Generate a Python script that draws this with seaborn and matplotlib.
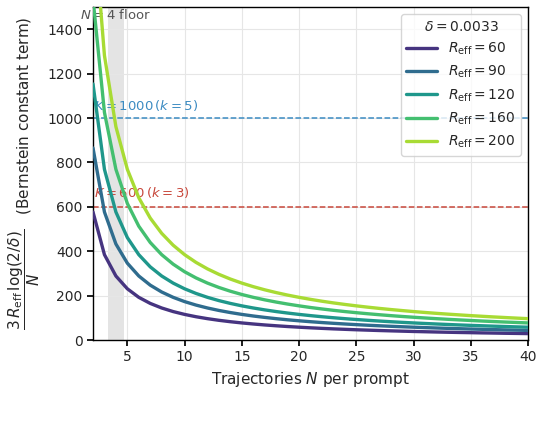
import numpy as np
import pandas as pd
import matplotlib
matplotlib.use("Agg")
import matplotlib.pyplot as plt
import seaborn as sns

N_values = list(range(2, 41))
R_eff_values = [60, 90, 120, 160, 200]

bound_R60 = [576.6, 384.4, 288.3, 230.7, 192.2, 164.8, 144.2, 128.1, 115.3, 104.8, 96.1, 88.7, 82.4, 76.9,
             72.1, 67.8, 64.1, 60.7, 57.7, 54.9, 52.4, 50.1, 48.1, 46.1, 44.4, 42.7, 41.2, 39.8, 38.4, 37.2,
             36.0, 34.9, 33.9, 33.0, 32.0, 31.2, 30.3, 29.6, 28.8]
bound_R90 = [864.9, 576.6, 432.5, 346.0, 288.3, 247.1, 216.2, 192.2, 173.0, 157.3, 144.2, 133.1, 123.6, 115.3,
             108.1, 101.8, 96.1, 91.0, 86.5, 82.4, 78.6, 75.2, 72.1, 69.2, 66.5, 64.1, 61.8, 59.7, 57.7, 55.8,
             54.1, 52.4, 50.9, 49.4, 48.1, 46.8, 45.5, 44.4, 43.2]
bound_R120 = [1153.3, 768.8, 576.6, 461.3, 384.4, 329.5, 288.3, 256.3, 230.7, 209.7, 192.2, 177.4, 164.8, 153.8,
              144.2, 135.7, 128.1, 121.4, 115.3, 109.8, 104.8, 100.3, 96.1, 92.3, 88.7, 85.4, 82.4, 79.5, 76.9,
              74.4, 72.1, 69.9, 67.8, 65.9, 64.1, 62.3, 60.7, 59.1, 57.7]
bound_R160 = [1537.7, 1025.1, 768.8, 615.1, 512.6, 439.3, 384.4, 341.7, 307.5, 279.6, 256.3, 236.6, 219.7, 205.0,
              192.2, 180.9, 170.9, 161.9, 153.8, 146.4, 139.8, 133.7, 128.1, 123.0, 118.3, 113.9, 109.8, 106.0,
              102.5, 99.2, 96.1, 93.2, 90.5, 87.9, 85.4, 83.1, 80.9, 78.9, 76.9]
bound_R200 = [1922.1, 1281.4, 961.0, 768.8, 640.7, 549.2, 480.5, 427.1, 384.4, 349.5, 320.3, 295.7, 274.6, 256.3,
              240.3, 226.1, 213.6, 202.3, 192.2, 183.1, 174.7, 167.1, 160.2, 153.8, 147.9, 142.4, 137.3, 132.6,
              128.1, 124.0, 120.1, 116.5, 113.1, 109.8, 106.8, 103.9, 101.2, 98.6, 96.1]

series = [bound_R60, bound_R90, bound_R120, bound_R160, bound_R200]
legend_labels = [r"$R_{\rm eff} = %d$" % r for r in R_eff_values]

K_lines = [1000, 600]
K_labels = [r"$K = 1000\,(k = 5)$", r"$K = 600\,(k = 3)$"]
K_colors = ["#3b8bc2", "#c8473b"]

rows = []
for lab, vals in zip(legend_labels, series):
    for n, v in zip(N_values, vals):
        rows.append({"N": n, "value": v, "series": lab})
df = pd.DataFrame(rows)

sns.set_theme(style="ticks")
plt.rcParams["font.family"] = ["DejaVu Sans"]

fig, ax = plt.subplots(figsize=(5.42, 4.21), dpi=100)
fig.subplots_adjust(left=93/542, right=528/542, top=1-7/421, bottom=1-340/421)

cmap = plt.get_cmap("viridis")
palette = [cmap(v) for v in [0.15, 0.35, 0.53, 0.7, 0.87]]

ax.axvspan(3.3, 4.7, color="#d9d9d9", alpha=0.7, lw=0, zorder=0)
ax.text(4, 1464, r"$N = 4$ floor", ha="center", va="center", color="#555555", fontsize=9.5)

for k, lab, c, dy in zip(K_lines, K_labels, K_colors, [58, 63]):
    ax.axhline(k, color=c, ls="--", lw=1.1, zorder=1)
    ax.text(2.1, k + dy, lab, color=c, fontsize=9.5, ha="left", va="center")

sns.lineplot(data=df, x="N", y="value", hue="series", palette=palette, lw=2.4, ax=ax, zorder=3)

ax.set_xlim(2, 40)
ax.set_ylim(0, 1500)
ax.set_xticks([5, 10, 15, 20, 25, 30, 35, 40])
ax.set_yticks([0, 200, 400, 600, 800, 1000, 1200, 1400])
ax.grid(True, color="#e6e6e6", lw=0.8)
ax.set_axisbelow(True)
for s in ax.spines.values():
    s.set_color("black")
    s.set_linewidth(1.0)
ax.tick_params(labelsize=10, length=4, color="black")

ax.set_xlabel(r"Trajectories $N$ per prompt", fontsize=11)
ax.set_ylabel(r"$\dfrac{3\,R_{\rm eff}\,\log(2/\delta)}{N}$   (Bernstein constant term)", fontsize=11)

leg = ax.legend(title=r"$\delta = 0.0033$", loc="upper right", fontsize=10, title_fontsize=10,
                frameon=True, handlelength=2.2)
leg.get_frame().set_edgecolor("#cccccc")

fig.savefig("out.png", dpi=100)
